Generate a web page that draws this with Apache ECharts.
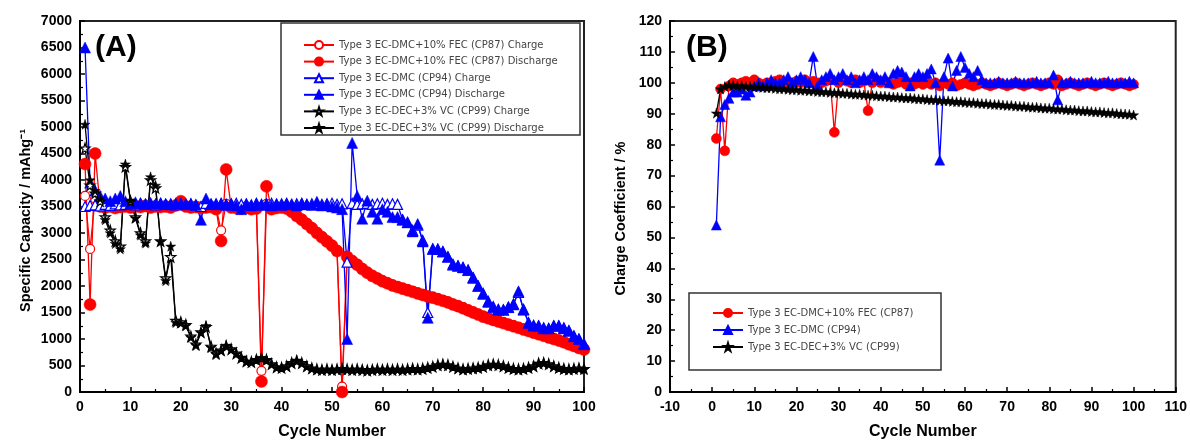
<!DOCTYPE html>
<html><head><meta charset="utf-8">
<script src="https://cdn.jsdelivr.net/npm/echarts@6/dist/echarts.min.js"></script>
<style>html,body{margin:0;padding:0;background:#fff}#c{width:1190px;height:445px}</style>
</head><body><div id="c"></div>
<script>
const cycles = [1,2,3,4,5,6,7,8,9,10,11,12,13,14,15,16,17,18,19,20,21,22,23,24,25,26,27,28,29,30,31,32,33,34,35,36,37,38,39,40,41,42,43,44,45,46,47,48,49,50,51,52,53,54,55,56,57,58,59,60,61,62,63,64,65,66,67,68,69,70,71,72,73,74,75,76,77,78,79,80,81,82,83,84,85,86,87,88,89,90,91,92,93,94,95,96,97,98,99,100];

// Panel A: specific capacity (mAh/g)
const redCharge = [3700,2700,3650,3520,3510,3520,3500,3510,3520,3500, 3510,3520,3530,3500,3520,3510,3520,3500,3530,3540, 3520,3500,3510,3500,3510,3500,3480,3050,3550,3500, 3490,3480,3500,3470,3480,400,3550,3470,3490,3500, 3480,3420,3340,3270,3190,3110,3020,2940,2860,2780, 2680,100,2570,2490,2420,2340,2270,2210,2160,2110, 2070,2030,2000,1970,1940,1910,1880,1850,1820,1800, 1770,1740,1710,1670,1640,1600,1560,1520,1480,1440, 1410,1380,1350,1320,1290,1260,1230,1200,1170,1140, 1110,1080,1050,1020,990,960,920,890,850,820];
const redDischarge = [4300,1650,4500,3500,3480,3500,3470,3490,3500,3480, 3500,3490,3510,3480,3500,3490,3500,3480,3520,3600, 3500,3480,3490,3470,3480,3490,3450,2850,4200,3480, 3470,3460,3480,3450,3460,200,3880,3450,3470,3480, 3460,3400,3320,3250,3170,3090,3000,2920,2840,2760, 2660,0,2550,2470,2400,2320,2250,2190,2140,2090, 2050,2010,1980,1950,1920,1890,1860,1830,1800,1780, 1750,1720,1690,1650,1620,1580,1540,1500,1460,1420, 1390,1360,1330,1300,1270,1240,1210,1180,1150,1120, 1090,1060,1030,1000,970,940,900,870,830,800];
const blueCharge = [3500,3520,3530,3510,3540,3520,3550,3530,3540,3550, 3530,3560,3540,3550,3530,3560,3540,3550,3530,3560, 3540,3550,3530,3500,3560,3540,3550,3560,3540,3550, 3560,3540,3550,3530,3560,3540,3550,3560,3540,3550, 3560,3540,3550,3560,3540,3550,3560,3540,3550,3560, 3540,3550,2450,3560,3540,3550,3560,3540,3550,3560, 3540,3550,3540,3250,3200,3050,3150,2860,1500,2700, 2690,2650,2550,2410,2380,2350,2300,2160,2000,1860, 1710,1610,1560,1550,1600,1660,1880,1560,1310,1260, 1250,1210,1200,1250,1250,1210,1160,1060,1000,910];
const blueDischarge = [6500,3950,3800,3700,3650,3600,3650,3700,3600,3550, 3580,3560,3550,3570,3550,3560,3550,3540,3560,3550, 3540,3550,3530,3250,3650,3550,3540,3550,3530,3550, 3520,3450,3540,3520,3550,3530,3540,3520,3550,3530, 3550,3540,3520,3550,3540,3530,3590,3520,3540,3500, 3480,3450,1000,4700,3700,3270,3610,3400,3270,3450, 3400,3300,3300,3250,3200,3030,3170,2840,1400,2700, 2700,2650,2550,2400,2380,2350,2300,2150,2000,1850, 1700,1600,1550,1550,1600,1650,1900,1550,1300,1250, 1250,1200,1200,1250,1250,1200,1150,1050,1000,900];
const blackCharge = [4600,3900,3750,3600,3300,3050,2850,2750,4250,3600, 3300,3000,2850,4000,3850,2850,2150,2550,1350,1320, 1270,1050,900,1130,1230,860,730,790,870,810, 730,650,580,570,610,640,610,530,470,460, 490,550,590,550,490,450,430,420,430,420, 430,440,430,420,430,420,410,420,430,420, 430,420,430,420,430,440,430,440,460,480, 510,520,510,480,450,430,440,450,460,480, 510,520,510,490,460,440,430,440,460,490, 540,550,530,490,460,440,430,440,450,440];
const blackDischarge = [5050,4000,3800,3650,3250,3000,2800,2700,4300,3620, 3280,2960,2810,4060,3900,2840,2100,2750,1310,1300, 1250,1030,880,1120,1250,840,710,780,880,800, 720,640,570,560,600,650,600,520,460,450, 480,540,600,540,480,440,420,410,420,410, 420,430,420,410,420,410,400,410,420,410, 420,410,420,410,420,430,420,430,450,470, 500,520,500,470,440,420,430,440,450,470, 500,520,510,480,450,430,420,430,450,480, 540,550,520,480,450,430,420,430,440,430];

// Panel B: charge coefficient (%)
const redCoef = [82,98,78,99,100,99.5,100,100.5,100,101, 100,99.5,100,100,100.5,101,100,99.5,100,100.5, 100,101,100,100.5,100,100,100.5,101,84,100, 101,100.5,100,101,100,100.5,91,100,101,100, 100.5,100,99.5,100,100.5,99.5,100,99.5,100,99.5, 100,99.5,100,99,100,99.5,100,99,99.5,100, 99.5,99,99.5,100,99.5,99,99.5,100,99.5,99, 99.5,100,99.5,99,99.5,100,99.5,99,99.5,100, 99.5,101,99,99.5,100,99.5,99,99.5,100,99.5, 99,99.5,100,99.5,99,99.5,100,99.5,99,99.5];
const blueCoef = [54,89,93,95,97,97,98,96,97,99, 100,99,100,101,100,100,101,102,100,101, 102,101,100,108.5,99,101,102,103,101,102, 103,101,102,100,101,102,101,103,102,101, 102,100,103,104,103.5,102,99,102,103,102, 103,104.5,100,75,102,108,99,104,108.5,105, 103,102,104,101,100,100,100,100.5,100,100, 100,100.5,100,100,100,100,100.5,100,100,100, 102.5,94.5,100,100,100.5,100,100,100,100,100.5, 100,100,100,100.5,100,100,100,100,100.5,100];
const blackCoef = [90.2,98.0,98.8,99.3,99.2,99.0,99.1,98.8,98.9,98.6, 98.7,98.5,98.4,98.4,98.2,98.1,98.1,97.9,97.8,97.8, 97.6,97.6,97.4,97.4,97.2,97.1,97.1,96.9,96.8,96.8, 96.6,96.6,96.4,96.3,96.3,96.1,96.0,96.0,95.8,95.7, 95.7,95.5,95.4,95.4,95.2,95.1,95.1,94.9,94.8,94.8, 94.6,94.5,94.5,94.3,94.2,94.2,94.0,93.9,93.9,93.7, 93.6,93.6,93.4,93.3,93.3,93.1,93.0,93.0,92.8,92.7, 92.7,92.5,92.4,92.4,92.2,92.1,92.1,91.9,91.8,91.8, 91.6,91.5,91.5,91.3,91.2,91.2,91.0,90.9,90.9,90.7, 90.6,90.6,90.4,90.3,90.3,90.1,90.0,89.9,89.8,89.6];

const namesA = ['Type 3 EC-DMC+10% FEC (CP87) Charge','Type 3 EC-DMC+10% FEC (CP87) Discharge','Type 3 EC-DMC (CP94) Charge','Type 3 EC-DMC (CP94) Discharge','Type 3 EC-DEC+3% VC (CP99) Charge','Type 3 EC-DEC+3% VC (CP99) Discharge'];
const namesB = ['Type 3 EC-DMC+10% FEC (CP87)','Type 3 EC-DMC (CP94)','Type 3 EC-DEC+3% VC (CP99)'];

const STAR = 'path://M50,0 L61,35 L98,35 L68,57 L79,91 L50,70 L21,91 L32,57 L2,35 L39,35 Z';
const pts = arr => cycles.map((c, i) => [c, arr[i]]);
const FONT = 'Liberation Sans';

function mkX(gi, min, max) {
  return {type:'value', gridIndex:gi, min:min, max:max, interval:10,
    name:'Cycle Number', nameLocation:'middle', nameGap:32,
    nameTextStyle:{fontFamily:FONT, fontWeight:'bold', fontSize:16, color:'#000'},
    axisLine:{onZero:false, lineStyle:{color:'#000', width:2}},
    axisTick:{inside:true, length:5, lineStyle:{color:'#000', width:1.5}},
    minorTick:{show:true, splitNumber:2, length:3, lineStyle:{color:'#000', width:1.2}},
    axisLabel:{fontFamily:FONT, fontWeight:'bold', fontSize:14, color:'#000', margin:8, formatter: v => String(v)},
    splitLine:{show:false}};
}
function mkY(gi, max, interval, name, gap, shift) {
  return {type:'value', gridIndex:gi, min:0, max:max, interval:interval,
    name:name, nameLocation:'middle', nameGap:gap,
    nameTextStyle:{fontFamily:FONT, fontWeight:'bold', fontSize:14.5, color:'#000', padding:[0, shift, 0, 0]},
    axisLine:{onZero:false, lineStyle:{color:'#000', width:2}},
    axisTick:{inside:true, length:5, lineStyle:{color:'#000', width:1.5}},
    minorTick:{show:true, splitNumber:2, length:3, lineStyle:{color:'#000', width:1.2}},
    axisLabel:{fontFamily:FONT, fontWeight:'bold', fontSize:14, color:'#000', margin:8, formatter: v => String(v)},
    splitLine:{show:false}};
}
function ser(name, gi, arr, color, symbol, size, hollow) {
  return {type:'line', name:name, xAxisIndex:gi, yAxisIndex:gi, data:pts(arr),
    symbol:symbol, symbolSize:size, showAllSymbol:true, animation:false,
    lineStyle:{color:color, width:1.3},
    itemStyle: hollow ? {color:'#fff', borderColor:color, borderWidth:1.2} : {color:color, borderColor:color, borderWidth:0.5}};
}

const chart = echarts.init(document.getElementById('c'), null, {renderer:'canvas'});
chart.setOption({
  backgroundColor:'#fff',
  animation:false,
  title:[
    {text:'(A)', left:95, top:33, padding:0, textStyle:{fontFamily:FONT, fontWeight:'bold', fontSize:30, color:'#000'}},
    {text:'(B)', left:686, top:33, padding:0, textStyle:{fontFamily:FONT, fontWeight:'bold', fontSize:30, color:'#000'}}
  ],
  grid:[
    {left:80, top:21, width:504, height:374, show:true, borderColor:'#222', borderWidth:2, backgroundColor:'transparent'},
    {left:670, top:21, width:506, height:374, show:true, borderColor:'#222', borderWidth:2, backgroundColor:'transparent'}
  ],
  xAxis:[mkX(0, 0, 100), mkX(1, -10, 110)],
  yAxis:[mkY(0, 7000, 500, 'Specific Capacity / mAhg\u207B\u00B9', 47, 28), mkY(1, 120, 10, 'Charge Coefficient / %', 42, 24)],
  graphic:[
    {type:'rect', z:10, shape:{x:281, y:23, width:299, height:112}, style:{fill:'#fff', stroke:'#333', lineWidth:1.5}},
    {type:'rect', z:10, shape:{x:689, y:293, width:252, height:77}, style:{fill:'#fff', stroke:'#333', lineWidth:1.5}}
  ],
  legend:[
    {data:namesA, left:303, top:40, orient:'vertical', itemWidth:30, itemHeight:10, itemGap:6.6, padding:0, z:20, selectedMode:false,
     textStyle:{fontFamily:'DejaVu Sans', fontSize:10, color:'#444'}},
    {data:namesB, left:712, top:308, orient:'vertical', itemWidth:30, itemHeight:10, itemGap:7, padding:0, z:20, selectedMode:false,
     textStyle:{fontFamily:'DejaVu Sans', fontSize:10, color:'#444'}}
  ],
  series:[
    ser(namesA[0], 0, redCharge, '#ff0000', 'circle', 9, true),
    ser(namesA[1], 0, redDischarge, '#ff0000', 'circle', 12, false),
    ser(namesA[2], 0, blueCharge, '#0000ff', 'triangle', 10, true),
    ser(namesA[3], 0, blueDischarge, '#0000ff', 'triangle', 11, false),
    ser(namesA[4], 0, blackCharge, '#000000', STAR, 10, true),
    ser(namesA[5], 0, blackDischarge, '#000000', STAR, 10, false),
    ser(namesB[0], 1, redCoef, '#ff0000', 'circle', 10, false),
    ser(namesB[1], 1, blueCoef, '#0000ff', 'triangle', 10, false),
    ser(namesB[2], 1, blackCoef, '#000000', STAR, 10, false)
  ]
});
</script></body></html>
